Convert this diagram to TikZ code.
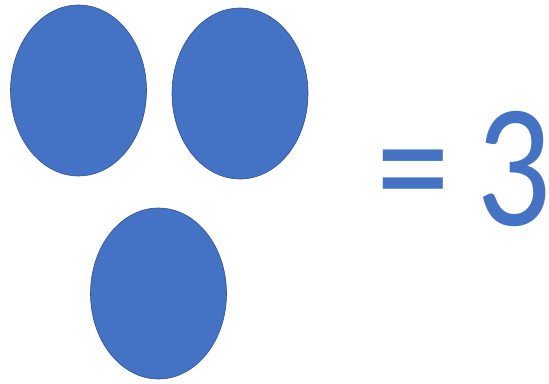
\documentclass[tikz,border=0pt]{standalone}
\usepackage{fontspec}
\setmainfont{Carlito}
\usetikzlibrary{shapes.geometric}
\definecolor{dotblue}{HTML}{4472C4}
\definecolor{dotedge}{HTML}{2F528F}
\begin{document}
\begin{tikzpicture}[x=1pt,y=-1pt,
  dot/.style={ellipse,fill=dotblue,draw=dotedge,line width=0.6pt,minimum width=136pt,minimum height=171pt,inner sep=0pt},
  big/.style={text=dotblue,font=\fontsize{176}{176}\selectfont,anchor=base,inner sep=0pt,xscale=0.84}]
\useasboundingbox (0,0) rectangle (549,383);
\node[dot] (d1) at (78.5,90.5) {};
\node[dot] (d2) at (240,93.5) {};
\node[dot] (d3) at (158.5,293.5) {};
\node[big] (eq) at (413,225) {=};
\node[big] (three) at (514,225) {3};
\end{tikzpicture}
\end{document}
